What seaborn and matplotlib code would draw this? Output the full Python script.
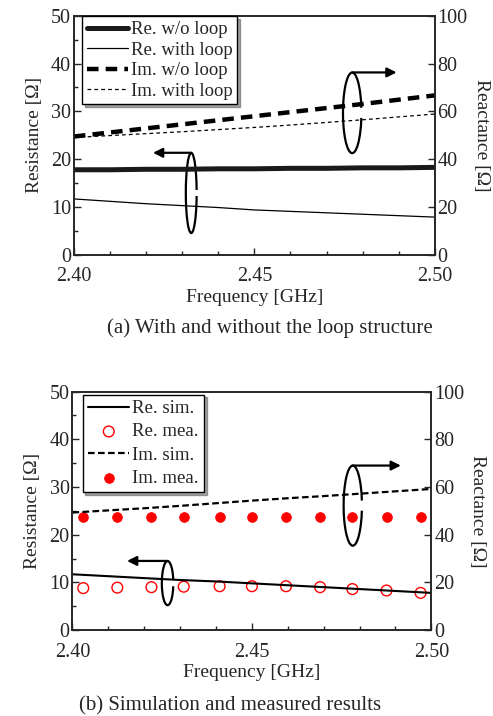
import matplotlib
matplotlib.use("Agg")
import matplotlib.pyplot as plt
from matplotlib.patches import Arc
from matplotlib.ticker import MultipleLocator
import seaborn as sns

# frequency grid (GHz)
freq = [2.40, 2.41, 2.42, 2.43, 2.44, 2.45, 2.46, 2.47, 2.48, 2.49, 2.50]

# (a) with / without loop
re_wo_loop = [17.8, 17.8, 17.9, 17.9, 18.0, 18.0, 18.1, 18.1, 18.2, 18.2, 18.3]
re_with_loop = [11.7, 11.2, 10.7, 10.3, 9.9, 9.4, 9.1, 8.8, 8.5, 8.2, 7.9]
im_wo_loop = [49.5, 51.2, 52.9, 54.6, 56.3, 58.0, 59.7, 61.4, 63.1, 64.9, 66.7]
im_with_loop = [49.1, 49.9, 50.7, 51.5, 52.4, 53.3, 54.3, 55.4, 56.5, 57.7, 58.9]

# (b) simulation vs measurement
re_sim = [11.7, 11.3, 10.9, 10.5, 10.2, 9.8, 9.4, 9.0, 8.6, 8.2, 7.8]
im_sim = [49.3, 50.2, 51.1, 52.1, 53.2, 54.3, 55.3, 56.2, 57.2, 58.2, 59.2]
freq_mea = [2.403, 2.4125, 2.422, 2.431, 2.441, 2.450, 2.4595, 2.469, 2.478, 2.4875, 2.497]
re_mea = [8.8, 8.9, 9.0, 9.1, 9.2, 9.2, 9.2, 9.0, 8.6, 8.3, 7.8]
im_mea = [47.3, 47.4, 47.4, 47.4, 47.4, 47.4, 47.3, 47.3, 47.3, 47.3, 47.3]

sns.set_style("ticks")
plt.rcParams["font.family"] = ["Liberation Serif", "DejaVu Serif"]

fig = plt.figure(figsize=(4.93, 7.16), dpi=100)
ax_a = fig.add_axes([0.150, 0.644, 0.732, 0.334])
ax_b = fig.add_axes([0.147, 0.120, 0.728, 0.333])


def style_axes(ax, ax2):
    ax.set_xlim(2.40, 2.50)
    ax.set_ylim(0, 50)
    ax2.set_ylim(0, 100)
    ax.set_xticks([2.40, 2.45, 2.50])
    ax.set_xticklabels(["2.40", "2.45", "2.50"])
    ax.xaxis.set_minor_locator(MultipleLocator(0.01))
    ax.yaxis.set_major_locator(MultipleLocator(10))
    ax.yaxis.set_minor_locator(MultipleLocator(5))
    ax2.yaxis.set_major_locator(MultipleLocator(20))
    ax.tick_params(which="both", direction="in", top=False, right=False,
                   labelsize=14.5, width=1)
    ax.tick_params(axis="y", pad=2)
    ax.tick_params(axis="x", pad=9)
    ax.tick_params(which="major", length=5)
    ax.tick_params(which="minor", length=3)
    ax2.tick_params(which="both", direction="in", labelsize=14.5, pad=2,
                    length=5, width=1)
    for sp in ax.spines.values():
        sp.set_linewidth(1.2)
        sp.set_visible(True)
    for sp in ax2.spines.values():
        sp.set_linewidth(1.2)
        sp.set_visible(True)
    ax.set_xlabel("Frequency [GHz]", fontsize=14, labelpad=2)
    ax.set_ylabel("Resistance [Ω]", fontsize=14, labelpad=6)
    ax2.set_ylabel("Reactance [Ω]", fontsize=14, rotation=270, labelpad=16)


def turn_arrow(ax, cx, cy, w, h, x_end, y_line):
    arc = Arc((cx, cy), w, h, theta1=40, theta2=320, transform=ax.transAxes,
              lw=1.6, color="k")
    ax.add_patch(arc)
    ax.annotate("", xy=(x_end, y_line), xytext=(cx, y_line),
                xycoords="axes fraction", textcoords="axes fraction",
                arrowprops=dict(arrowstyle="-|>", lw=1.6, color="k",
                                mutation_scale=14, shrinkA=0, shrinkB=0))


# ---- (a) ----
ax_a2 = ax_a.twinx()
sns.lineplot(x=freq, y=re_wo_loop, ax=ax_a, color="#1a1a1a", lw=3.6,
             label="Re. w/o loop")
sns.lineplot(x=freq, y=re_with_loop, ax=ax_a, color="k", lw=0.9,
             label="Re. with loop")
sns.lineplot(x=freq, y=im_wo_loop, ax=ax_a2, color="k", lw=3.2,
             linestyle=(0, (2.6, 1.6)), label="Im. w/o loop")
sns.lineplot(x=freq, y=im_with_loop, ax=ax_a2, color="k", lw=0.9,
             linestyle=(0, (3, 2.5)), label="Im. with loop")
style_axes(ax_a, ax_a2)
h1, l1 = ax_a.get_legend_handles_labels()
h2, l2 = ax_a2.get_legend_handles_labels()
ax_a2.get_legend().remove()
ax_a.get_legend().remove()
leg = ax_a2.legend(h1 + h2, l1 + l2, loc="upper left", bbox_to_anchor=(0.022, 0.997),
                   borderaxespad=0, fontsize=13.5, frameon=True, fancybox=False,
                   shadow=True, handlelength=2.2, handletextpad=0.15,
                   labelspacing=0.18, borderpad=0.25)
leg.get_frame().set_edgecolor("k")
leg.get_frame().set_linewidth(1.0)
turn_arrow(ax_a, 0.325, 0.259, 0.030, 0.335, 0.219, 0.427)
turn_arrow(ax_a, 0.771, 0.594, 0.051, 0.337, 0.894, 0.763)

# ---- (b) ----
ax_b2 = ax_b.twinx()
sns.lineplot(x=freq, y=re_sim, ax=ax_b, color="k", lw=1.5, label="Re. sim.")
sns.scatterplot(x=freq_mea, y=re_mea, ax=ax_b, marker="o", s=60,
                facecolors="none", edgecolor="red", linewidth=1.0,
                label="Re. mea.")
sns.lineplot(x=freq, y=im_sim, ax=ax_b2, color="k", lw=1.6,
             linestyle=(0, (3, 1.5)), label="Im. sim.")
sns.scatterplot(x=freq_mea, y=im_mea, ax=ax_b2, marker="o", s=50,
                color="red", edgecolor="red", linewidth=0.5, label="Im. mea.")
style_axes(ax_b, ax_b2)
h1, l1 = ax_b.get_legend_handles_labels()
h2, l2 = ax_b2.get_legend_handles_labels()
ax_b2.get_legend().remove()
ax_b.get_legend().remove()
leg = ax_b2.legend(h1 + h2, l1 + l2, loc="upper left", bbox_to_anchor=(0.028, 0.988),
                   borderaxespad=0, fontsize=13.5, frameon=True, fancybox=False,
                   shadow=True, handlelength=2.2, handletextpad=0.15,
                   labelspacing=0.32, borderpad=0.3)
leg.get_frame().set_edgecolor("k")
leg.get_frame().set_linewidth(1.0)
turn_arrow(ax_b, 0.265, 0.197, 0.032, 0.185, 0.152, 0.290)
turn_arrow(ax_b, 0.781, 0.522, 0.051, 0.336, 0.915, 0.690)

# captions
fig.text(270 / 493, 1 - 328 / 716, "(a) With and without the loop structure",
         ha="center", va="center", fontsize=15)
fig.text(230 / 493, 1 - 706 / 716, "(b) Simulation and measured results",
         ha="center", va="center", fontsize=15)

fig.savefig("out.png", dpi=100)
